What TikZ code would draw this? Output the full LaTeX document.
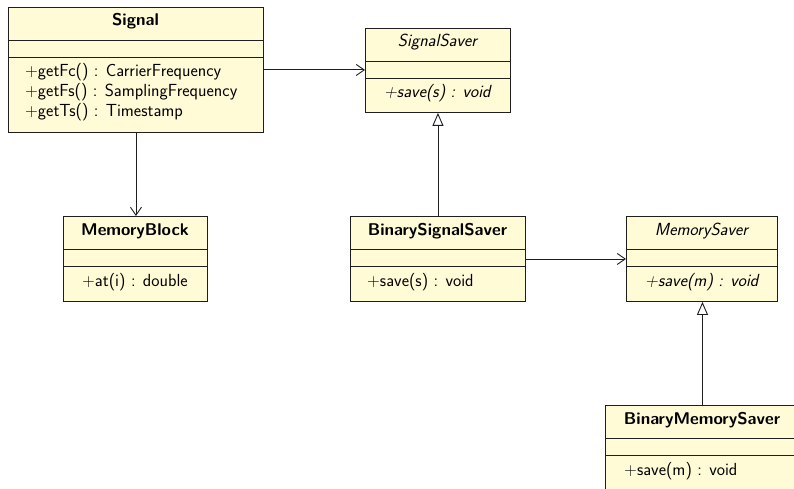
\documentclass[tikz,border=0pt]{standalone}
\usetikzlibrary{arrows.meta}
\definecolor{clsfill}{RGB}{255,251,215}
\definecolor{clsline}{RGB}{30,30,30}
\begin{document}
\begin{tikzpicture}[x=1pt,y=-1pt,
  font=\sffamily\fontsize{17.5}{20}\selectfont,
  cls/.style={draw=clsline, fill=clsfill, line width=0.9pt, inner sep=0pt, anchor=north west},
  sep/.style={draw=clsline, line width=0.9pt},
  ttl/.style={inner sep=0pt, text height=0.72em, text depth=0.22em, font=\sffamily\bfseries\fontsize{17}{20}\selectfont},
  ttli/.style={inner sep=0pt, text height=0.72em, text depth=0.22em, font=\sffamily\itshape\fontsize{17.5}{20}\selectfont},
  mth/.style={inner sep=0pt, anchor=west, text height=0.75em, text depth=0.25em},
  mthi/.style={mth, font=\sffamily\itshape\fontsize{17.5}{20}\selectfont},
  dep/.style={draw=clsline, line width=0.9pt, -{Straight Barb[length=8pt,width=11pt]}},
  gen/.style={draw=clsline, line width=0.9pt, -{Triangle[length=13pt,width=11pt,fill=white]}}
]
\clip (0,0) rectangle (794,489);
\fill[white] (0,0) rectangle (794,489);

% Signal
\node[cls, minimum width=255pt, minimum height=125pt] (signal) at (8,7) {};
\draw[sep] (8,40) -- (263,40);
\draw[sep] (8,57) -- (263,57);
\node[ttl] (signalT) at (135.5,23.5) {Signal};
\node[mth] (signalM1) at (25,74.5) {+getFc() : CarrierFrequency};
\node[mth] (signalM2) at (25,94.5) {+getFs() : SamplingFrequency};
\node[mth] (signalM3) at (25,114.5) {+getTs() : Timestamp};

% SignalSaver
\node[cls, minimum width=145pt, minimum height=84pt] (ss) at (365,28) {};
\draw[sep] (365,61) -- (510,61);
\draw[sep] (365,78) -- (510,78);
\node[ttli] (ssT) at (437.5,44.5) {SignalSaver};
\node[mthi] (ssM) at (384,95) {+save(s) : void};

% MemoryBlock
\node[cls, minimum width=144pt, minimum height=85pt] (mb) at (63,216) {};
\draw[sep] (63,249) -- (207,249);
\draw[sep] (63,266) -- (207,266);
\node[ttl] (mbT) at (135,232.5) {MemoryBlock};
\node[mth] (mbM) at (82,283.5) {+at(i) : double};

% BinarySignalSaver
\node[cls, minimum width=175pt, minimum height=85pt] (bss) at (350,216) {};
\draw[sep] (350,249) -- (525,249);
\draw[sep] (350,266) -- (525,266);
\node[ttl] (bssT) at (437.5,232.5) {BinarySignalSaver};
\node[mth] (bssM) at (367,283.5) {+save(s) : void};

% MemorySaver
\node[cls, minimum width=151pt, minimum height=85pt] (ms) at (626,216) {};
\draw[sep] (626,249) -- (777,249);
\draw[sep] (626,266) -- (777,266);
\node[ttli] (msT) at (701.5,232.5) {MemorySaver};
\node[mthi] (msM) at (645,283.5) {+save(m) : void};

% BinaryMemorySaver
\node[cls, minimum width=194pt, minimum height=85pt] (bms) at (605,405) {};
\draw[sep] (605,438) -- (799,438);
\draw[sep] (605,455) -- (799,455);
\node[ttl] (bmsT) at (702,421.5) {BinaryMemorySaver};
\node[mth] (bmsM) at (624,472.5) {+save(m) : void};

% connectors
\draw[dep] (signal.east) -- (signal.east -| ss.west);
\draw[dep] (signal.south) -- (signal.south |- mb.north);
\draw[gen] (bss.north) -- (bss.north |- ss.south);
\draw[dep] (bss.east) -- (bss.east -| ms.west);
\draw[gen] (bms.north) -- (bms.north |- ms.south);
\end{tikzpicture}
\end{document}
